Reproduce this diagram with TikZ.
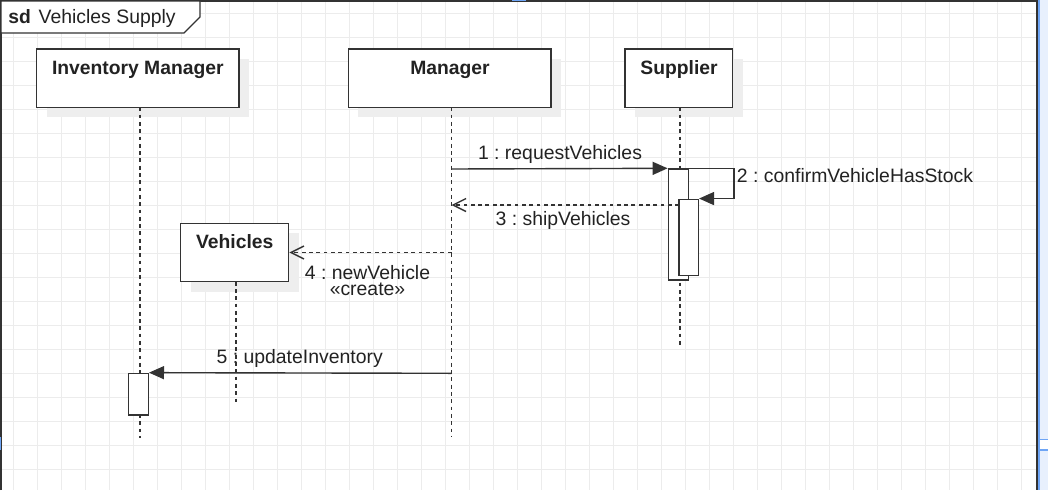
\documentclass[tikz,border=0pt]{standalone}
\usepackage{fontspec}
\setmainfont{Liberation Sans}
\usetikzlibrary{arrows.meta}
\definecolor{gridc}{RGB}{236,236,236}
\definecolor{linec}{RGB}{51,51,51}
\definecolor{textc}{RGB}{34,34,34}
\definecolor{shadc}{RGB}{238,238,238}
\definecolor{selblue}{RGB}{110,165,245}
\definecolor{selfill}{RGB}{232,240,253}
\begin{document}
\frenchspacing
\begin{tikzpicture}[x=1pt,y=-1pt,
  every node/.style={font=\fontsize{19.4}{22}\selectfont, text=textc, inner sep=0pt},
  objbox/.style={draw=linec, line width=1.4pt, fill=white, inner sep=0pt},
  objlabel/.style={anchor=base, font=\fontsize{19.3}{22}\selectfont\bfseries},
  actbox/.style={draw=linec, line width=1.4pt, fill=white, inner sep=0pt},
  lifeline/.style={draw=linec, line width=1.4pt, dash pattern=on 3.8pt off 3.5pt},
  syncmsg/.style={draw=linec, line width=1.4pt, -{Triangle[length=15pt,width=13pt]}},
  replymsg/.style={draw=linec, line width=1.4pt, dash pattern=on 3.8pt off 3.5pt, -{Straight Barb[length=13pt,width=13pt]}},
  msglabel/.style={anchor=base},
  shadowfill/.style={fill=shadc}
]
\useasboundingbox (0,0) rectangle (1048,490);
\fill[white] (0,0) rectangle (1048,490);
% grid
\foreach \i in {0,...,42} \draw[gridc, line width=1pt] (13+24*\i,0) -- (13+24*\i,490);
\foreach \j in {0,...,19} \draw[gridc, line width=1pt] (0,13+24*\j) -- (1038,13+24*\j);
% selection strip at right
\fill[selfill] (1038,0) rectangle (1048,490);
\draw[selblue, line width=1.5pt] (1039,0) -- (1039,490);
\fill[white] (1040,439.5) rectangle (1048,450);
\draw[selblue, line width=1.2pt] (1040,439.5) -- (1048,439.5) (1040,450) -- (1048,450);
% frame
\draw[linec, line width=1.4pt] (1,490) -- (1,1) -- (1037,1) -- (1037,490);
\draw[selblue, line width=1.5pt] (512,0.7) -- (526,0.7);
\draw[selblue, line width=1.5pt] (0.6,437) -- (0.6,450);
\draw[linec, line width=1.4pt, fill=white] (1,1) -- (200,1) -- (200,17) -- (184,33) -- (1,33) -- cycle;
\node[anchor=base west, font=\fontsize{19.3}{22}\selectfont\bfseries] (sdkw) at (8.3,23.5) {sd};
\node[anchor=base west] (sdname) at (38.5,23.5) {Vehicles Supply};
% shadows
\fill[shadowfill] (47,59) rectangle (249,117.3);
\fill[shadowfill] (358.3,59) rectangle (561,117.3);
\fill[shadowfill] (635,59) rectangle (742.7,117.3);
\fill[shadowfill] (190.7,233.3) rectangle (298.7,291.7);
% objects
\node[objbox, minimum width=202.3pt, minimum height=58.3pt] (im) at (137.8,78.2) {};
\node[objlabel] (imL) at (137.8,74.5) {Inventory Manager};
\node[objbox, minimum width=202.7pt, minimum height=58.3pt] (mg) at (449.7,78.2) {};
\node[objlabel] (mgL) at (450,74.5) {Manager};
\node[objbox, minimum width=107.7pt, minimum height=58.3pt] (sp) at (678.8,78.2) {};
\node[objlabel] (spL) at (679,74.5) {Supplier};
\node[objbox, minimum width=108pt, minimum height=58.3pt] (vh) at (234.7,252.5) {};
\node[objlabel] (vhL) at (234.7,248.5) {Vehicles};
% message labels
\node[msglabel] (l1) at (560,159.5) {1 : requestVehicles};
\node[msglabel, anchor=base west] (l2) at (736.7,182.7) {2 : confirmVehicleHasStock};
\node[msglabel] (l3) at (563,225) {3 : shipVehicles};
\node[msglabel, align=center, font=\fontsize{19.4}{16.5}\selectfont] (l4) at (367.5,295.5) {4 : newVehicle\\«create»};
\node[msglabel] (l5) at (299.7,363.3) {5 : updateInventory};
% lifelines
\coordinate (imTop) at (140,107.3);
\coordinate (imEnd) at (140,438);
\coordinate (mgTop) at (451.5,107.3);
\coordinate (mgEnd) at (451.5,437);
\coordinate (spTop) at (680,107.3);
\coordinate (spEnd) at (680,348);
\coordinate (vhTop) at (235.8,281.7);
\coordinate (vhEnd) at (235.8,405);
\draw[lifeline] (imTop) -- (imEnd);
\draw[lifeline] (mgTop) -- (mgEnd);
\draw[lifeline] (spTop) -- (spEnd);
\draw[lifeline] (vhTop) -- (vhEnd);
% activations
\node[actbox, minimum width=20pt, minimum height=111pt] (a1) at (678.3,224.5) {};
\node[actbox, minimum width=19.3pt, minimum height=76.5pt] (a2) at (688.7,237.5) {};
\node[actbox, minimum width=20pt, minimum height=41.7pt] (a3) at (138.3,394.2) {};
% messages
\coordinate (m1s) at (451.5,169);
\coordinate (m3s) at (679,205);
\coordinate (m3e) at (451.5,205);
\coordinate (m4s) at (451.5,252.5);
\coordinate (m5s) at (451.5,373.3);
\draw[syncmsg] (m1s) -- (a1.north west);
\draw[syncmsg] (a1.north east) -- ++(45,0) |- (a2.north east);
\draw[replymsg] (m3s) -- (m3e);
\draw[replymsg] (m4s) -- (vh.east);
\draw[syncmsg] (m5s) -- (a3.north east);
\end{tikzpicture}
\end{document}
